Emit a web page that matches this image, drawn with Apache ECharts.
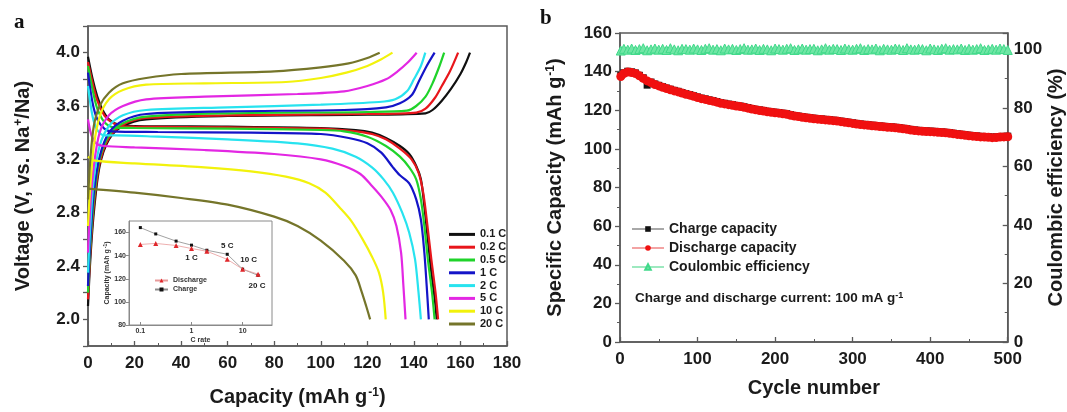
<!DOCTYPE html>
<html>
<head>
<meta charset="utf-8">
<script src="https://cdn.jsdelivr.net/npm/echarts@6.0.0/dist/echarts.min.js"></script>
<style>
  html, body { margin: 0; padding: 0; background: #fff; }
  #chart { width: 1067px; height: 412px; }
</style>
</head>
<body>
<div id="chart"></div>
<script>
// ---------- Panel a: galvanostatic charge/discharge profiles ----------
const rates = ['0.1 C', '0.2 C', '0.5 C', '1 C', '2 C', '5 C', '10 C', '20 C'];

// [capacity (mAh/g), voltage (V)]
const charge01 = [[0,2.1],[1,2.45],[2.5,2.8],[5,3.15],[9,3.35],[15,3.45],[25,3.5],[60,3.525],[120,3.535],[145,3.545],[148,3.57],[152,3.64],[156,3.73],[160,3.84],[162.5,3.93],[164.1,4.0]];
const charge02 = [[0,2.15],[1,2.5],[2.5,2.85],[5,3.17],[9,3.36],[15,3.46],[25,3.51],[60,3.53],[120,3.54],[141,3.55],[145,3.58],[149,3.66],[152,3.75],[155.5,3.86],[159,4.0]];
const charge05 = [[0,2.2],[1,2.55],[2.5,2.9],[5,3.2],[9,3.38],[15,3.47],[25,3.52],[60,3.545],[120,3.555],[137,3.565],[141,3.6],[145,3.67],[148,3.77],[151,3.9],[153,4.0]];
const charge1  = [[0,2.25],[1,2.6],[2.5,2.95],[5,3.22],[9,3.4],[15,3.49],[25,3.54],[60,3.56],[110,3.57],[128,3.59],[134,3.62],[139,3.68],[142,3.78],[145.5,3.9],[148.9,4.0]];
const charge2  = [[0,2.35],[1,2.7],[2.5,3.05],[5,3.3],[9,3.45],[15,3.53],[25,3.57],[60,3.59],[100,3.61],[125,3.63],[132,3.65],[137,3.71],[140,3.8],[143,3.9],[144.9,4.0]];
const charge5  = [[0,2.5],[1,2.85],[2.5,3.15],[5,3.4],[9,3.53],[15,3.6],[25,3.65],[50,3.67],[90,3.69],[110,3.71],[120,3.75],[128,3.8],[133,3.86],[137,3.92],[141.2,4.0]];
const charge10 = [[0,2.7],[1,3.0],[2.5,3.3],[5,3.52],[9,3.65],[15,3.72],[25,3.76],[50,3.77],[85,3.78],[100,3.81],[111,3.85],[120,3.9],[126,3.95],[130.8,4.0]];
const charge20 = [[0,2.9],[1,3.2],[2.5,3.45],[5,3.6],[9,3.7],[15,3.77],[25,3.81],[40,3.84],[80,3.86],[100,3.89],[112,3.92],[120,3.96],[125.3,4.0]];

const discharge01 = [[0,3.97],[2,3.8],[4,3.67],[6,3.58],[9,3.5],[13,3.46],[20,3.45],[60,3.445],[100,3.435],[115,3.42],[122,3.4],[128,3.36],[134,3.3],[138,3.24],[141,3.15],[143,3.05],[144.5,2.85],[146,2.6],[147.5,2.35],[149,2.15],[149.8,2.0]];
const discharge02 = [[0,3.93],[2,3.77],[4,3.64],[7,3.53],[10,3.48],[14,3.45],[20,3.445],[60,3.44],[100,3.43],[115,3.41],[122,3.39],[128,3.35],[134,3.28],[139,3.2],[142,3.1],[144,2.95],[145.5,2.75],[147.5,2.45],[149.3,2.2],[150.4,2.0]];
const discharge05 = [[0,3.9],[2,3.72],[4,3.58],[7,3.48],[11,3.44],[20,3.435],[60,3.43],[100,3.42],[110,3.41],[120,3.37],[128,3.3],[134,3.22],[138,3.14],[141,3.05],[143,2.9],[144.5,2.7],[146,2.45],[147.8,2.2],[148.9,2.0]];
const discharge1  = [[0,3.85],[2,3.62],[4,3.5],[7,3.43],[10,3.41],[30,3.405],[70,3.4],[100,3.39],[112,3.36],[120,3.32],[126,3.25],[131,3.14],[134,3.08],[138,3.02],[141,2.9],[143,2.75],[144.5,2.5],[145.5,2.25],[146.4,2.0]];
const discharge2  = [[0,3.75],[2,3.52],[4,3.42],[7,3.38],[12,3.38],[30,3.37],[60,3.35],[90,3.32],[105,3.28],[115,3.22],[122,3.14],[127,3.05],[131,2.95],[135,2.8],[138,2.65],[140.5,2.45],[142,2.2],[143,2.0]];
const discharge5  = [[0,3.5],[1.5,3.38],[3.5,3.32],[7,3.3],[20,3.29],[50,3.27],[80,3.24],[100,3.2],[110,3.15],[117,3.09],[122,3.0],[126,2.92],[130,2.82],[132.5,2.7],[134.5,2.5],[135.5,2.25],[136.4,2.0]];
const discharge10 = [[0,3.22],[3,3.19],[20,3.17],[50,3.14],[70,3.11],[85,3.07],[95,3.02],[102,2.95],[108,2.84],[113,2.74],[118,2.6],[122,2.47],[125,2.35],[126.8,2.2],[127.9,2.0]];
const discharge20 = [[0,2.98],[20,2.95],[40,2.91],[60,2.86],[80,2.77],[90,2.7],[100,2.59],[110,2.44],[115,2.33],[117.5,2.21],[119.5,2.1],[121.2,2.0]];

const chargeCurves = [charge01, charge02, charge05, charge1, charge2, charge5, charge10, charge20];
const dischargeCurves = [discharge01, discharge02, discharge05, discharge1, discharge2, discharge5, discharge10, discharge20];

// Inset: rate capability
const cRate = [0.1, 0.2, 0.5, 1, 2, 5, 10, 20];
const insetCharge = [164.3, 158.8, 152.6, 149.1, 144.7, 141.2, 128.3, 123.0];
const insetDischarge = [149.7, 150.6, 148.8, 146.2, 143.8, 136.8, 128.3, 124.0];
const insetLabelled = [1, 5, 10, 20];

// ---------- Panel b: cycling at 100 mA/g ----------
const cycles = [1,5,10,15,20,25,30,35,40,45,50,55,60,65,70,75,80,85,90,95,100,105,110,115,120,125,130,135,140,145,150,155,160,165,170,175,180,185,190,195,200,205,210,215,220,225,230,235,240,245,250,255,260,265,270,275,280,285,290,295,300,305,310,315,320,325,330,335,340,345,350,355,360,365,370,375,380,385,390,395,400,405,410,415,420,425,430,435,440,445,450,455,460,465,470,475,480,485,490,495,500];
const dischargeCap = [137.5,139.0,139.8,139.5,139.0,137.8,136.5,135.2,134.3,133.3,132.6,131.9,131.2,130.6,130.0,129.5,128.9,128.3,127.8,127.2,126.6,126.0,125.6,125.1,124.7,124.2,123.6,123.3,122.9,122.6,122.2,121.9,121.5,121.1,120.6,120.2,119.9,119.6,119.2,118.9,118.7,118.5,118.2,117.9,117.4,117.0,116.7,116.4,116.1,115.8,115.6,115.4,115.2,115.0,114.8,114.6,114.4,114.1,113.8,113.5,113.2,112.9,112.6,112.4,112.2,112.0,111.8,111.6,111.4,111.2,111.1,110.9,110.7,110.4,110.1,109.8,109.5,109.3,109.1,109.0,108.9,108.8,108.6,108.5,108.3,108.1,107.8,107.5,107.3,107.0,106.8,106.6,106.4,106.2,106.1,106.0,105.8,105.9,106.1,106.2,106.3];
const chargeCap = [138.0,139.4,140.2,139.9,139.3,138.1,136.8,133.0,134.6,133.6,132.9,132.2,131.5,130.9,130.3,129.8,129.2,128.6,128.1,127.5,126.9,126.3,125.9,125.4,125.0,124.5,123.9,123.6,123.2,122.9,122.5,122.2,121.8,121.4,120.9,120.5,120.2,119.9,119.5,119.2,119.0,118.8,118.5,118.2,117.7,117.3,117.0,116.7,116.4,116.1,115.9,115.7,115.5,115.3,115.1,114.9,114.7,114.4,114.1,113.8,113.5,113.2,112.9,112.7,112.5,112.3,112.1,111.9,111.7,111.5,111.4,111.2,111.0,110.7,110.4,110.1,109.8,109.6,109.4,109.3,109.2,109.1,108.9,108.8,108.6,108.4,108.1,107.8,107.6,107.3,107.1,106.9,106.7,106.5,106.4,106.3,106.1,106.2,106.4,106.5,106.6];
const coulombicEff = [99.6,100.2,99.9,100.3,99.8,100.1,100.4,99.7,100.0,100.3,99.9,100.2,99.8,100.4,100.0,99.7,100.2,100.1,99.9,100.3,100.0,99.8,100.2,100.4,99.9,100.1,99.7,100.3,100.0,100.2,99.8,100.1,100.4,99.9,100.0,100.3,99.8,100.2,100.0,99.7,100.3,100.1,99.9,100.2,100.4,99.8,100.0,100.3,99.9,100.1,100.2,99.7,100.0,100.4,99.9,100.2,100.1,99.8,100.3,100.0,99.9,100.2,100.4,99.8,100.1,100.0,100.3,99.7,100.2,100.0,99.9,100.3,100.1,99.8,100.4,100.0,99.9,100.2,100.1,99.7,100.3,100.0,99.8,100.2,100.4,99.9,100.1,100.0,100.3,99.8,100.2,99.9,100.1,100.4,99.8,100.0,100.2,99.9,100.3,100.1,99.8];

// ---------- Styling ----------
const FONT = 'Liberation Sans';
const TXT = '#1b1b1b';
const AX = '#5a5a5a';
const rateColors = ['#101010', '#e8161b', '#1fd32a', '#1414c8', '#27e3ef', '#e327e3', '#f2f20c', '#75752a'];

const supRich = (size) => ({
  sup: { fontSize: size, fontWeight: 'bold', fontFamily: FONT, color: TXT, verticalAlign: 'top', padding: [0, 0, 0, 1] }
});

function axisCommon(extra) {
  return Object.assign({
    axisLine: { show: true, onZero: false, lineStyle: { color: AX, width: 1.5 } },
    axisTick: { show: true, length: 5, lineStyle: { color: AX, width: 1.3 } },
    splitLine: { show: false },
    axisLabel: { color: TXT, fontFamily: FONT, fontWeight: 'bold', fontSize: 17 },
    nameTextStyle: { color: TXT, fontFamily: FONT, fontWeight: 'bold', fontSize: 20 }
  }, extra);
}

const chart = echarts.init(document.getElementById('chart'), null, { renderer: 'canvas' });

const series = [];
rates.forEach((r, i) => {
  series.push({
    name: r, type: 'line', xAxisIndex: 0, yAxisIndex: 0, data: chargeCurves[i],
    symbol: 'none', smooth: 0.3, lineStyle: { color: rateColors[i], width: 2.2 }, itemStyle: { color: rateColors[i] },
    z: 3, silent: true
  });
  series.push({
    name: r, type: 'line', xAxisIndex: 0, yAxisIndex: 0, data: dischargeCurves[i],
    symbol: 'none', smooth: 0.3, lineStyle: { color: rateColors[i], width: 2.2 }, itemStyle: { color: rateColors[i] },
    z: 3, silent: true
  });
});

// inset series
const insetLabelPos = { 1: ['bottom', [0, 2]], 5: ['top', [0, 2]], 10: ['top', [6, 1]], 20: ['bottom', [-1, 0]] };
series.push({
  name: 'Discharge', type: 'line', xAxisIndex: 1, yAxisIndex: 1,
  data: cRate.map((c, i) => [c, insetDischarge[i]]),
  symbol: 'triangle', symbolSize: 5, lineStyle: { color: '#e89a9a', width: 0.8 }, itemStyle: { color: '#e0262a' }, z: 6
});
series.push({
  name: 'Charge', type: 'line', xAxisIndex: 1, yAxisIndex: 1,
  data: cRate.map((c, i) => {
    const item = { value: [c, insetCharge[i]] };
    if (insetLabelled.indexOf(c) >= 0) {
      const pos = insetLabelPos[c];
      item.label = { show: true, formatter: c + ' C', position: pos[0], offset: pos[1],
        color: TXT, fontFamily: FONT, fontWeight: 'bold', fontSize: 8 };
    }
    return item;
  }),
  symbol: 'rect', symbolSize: 3, lineStyle: { color: '#8a8a8a', width: 0.8 }, itemStyle: { color: '#111' }, z: 5
});

// cycling series
series.push({
  name: 'Charge capacity', type: 'line', xAxisIndex: 2, yAxisIndex: 2,
  data: cycles.map((c, i) => [c, chargeCap[i]]),
  symbol: 'rect', symbolSize: 7, lineStyle: { color: '#a8a8a8', width: 1 }, itemStyle: { color: '#111' }, z: 3
});
series.push({
  name: 'Discharge capacity', type: 'line', xAxisIndex: 2, yAxisIndex: 2,
  data: cycles.map((c, i) => [c, dischargeCap[i]]),
  symbol: 'circle', symbolSize: 9, lineStyle: { color: '#f3a3a3', width: 1 }, itemStyle: { color: '#f01010' }, z: 4
});
series.push({
  name: 'Coulombic efficiency', type: 'line', xAxisIndex: 2, yAxisIndex: 3,
  data: cycles.map((c, i) => [c, coulombicEff[i]]),
  symbol: 'triangle', symbolSize: 9, lineStyle: { color: '#9de9bf', width: 1 },
  itemStyle: { color: '#6fe6a4', borderColor: '#40d98a', borderWidth: 1 }, z: 4
});

const option = {
  animation: false,
  backgroundColor: '#fff',
  textStyle: { fontFamily: FONT },
  grid: [
    { left: 88, top: 26, width: 419, height: 325, show: true, borderColor: AX, borderWidth: 1.5, backgroundColor: 'transparent' },
    { left: 129, top: 221, width: 143, height: 104, show: true, borderColor: '#8a8a8a', borderWidth: 1, backgroundColor: '#fff', z: 4 },
    { left: 620, top: 33, width: 398, height: 309, show: true, borderColor: AX, borderWidth: 1.5, backgroundColor: 'transparent' }
  ],
  xAxis: [
    axisCommon({
      gridIndex: 0, type: 'value', min: 0, max: 180, interval: 20,
      axisTick: { show: true, inside: true, length: 5, lineStyle: { color: AX, width: 1.3 } },
      minorTick: { show: true, splitNumber: 2, length: 3, lineStyle: { color: AX, width: 1 } },
      axisLabel: { color: TXT, fontFamily: FONT, fontWeight: 'bold', fontSize: 17, margin: 9 },
      name: 'Capacity (mAh g{sup|-1})', nameLocation: 'middle', nameGap: 41,
      nameTextStyle: { color: TXT, fontFamily: FONT, fontWeight: 'bold', fontSize: 20, rich: supRich(12) }
    }),
    {
      gridIndex: 1, type: 'log', logBase: 10, min: 0.06, max: 37.5,
      axisLine: { show: true, onZero: false, lineStyle: { color: '#8a8a8a', width: 1 } },
      axisTick: { show: true, inside: true, length: 3, lineStyle: { color: '#8a8a8a' } },
      splitLine: { show: false },
      axisLabel: { color: '#333', fontFamily: FONT, fontWeight: 'bold', fontSize: 7, margin: 3, showMinLabel: false, showMaxLabel: false,
        formatter: (v) => String(+v.toPrecision(2)) },
      name: 'C rate', nameLocation: 'middle', nameGap: 12,
      nameTextStyle: { color: '#333', fontFamily: FONT, fontWeight: 'bold', fontSize: 7 },
      z: 5
    },
    axisCommon({
      gridIndex: 2, type: 'value', min: 0, max: 500, interval: 100,
      axisTick: { show: true, inside: true, length: 5, lineStyle: { color: AX, width: 1.3 } },
      minorTick: { show: true, splitNumber: 2, length: 3, lineStyle: { color: AX, width: 1 } },
      axisLabel: { color: TXT, fontFamily: FONT, fontWeight: 'bold', fontSize: 17, margin: 9 },
      name: 'Cycle number', nameLocation: 'middle', nameGap: 36
    })
  ],
  yAxis: [
    axisCommon({
      gridIndex: 0, type: 'value', min: 1.8, max: 4.2, interval: 0.2,
      axisTick: { show: true, length: 5, lineStyle: { color: AX, width: 1.3 } },
      axisLabel: { color: TXT, fontFamily: FONT, fontWeight: 'bold', fontSize: 17, margin: 8,
        formatter: (v) => (Math.round(v * 10) % 4 === 0 ? v.toFixed(1) : '') },
      name: 'Voltage (V, vs. Na{sup|+}/Na)', nameLocation: 'middle', nameGap: 55, nameRotate: 90,
      nameTextStyle: { color: TXT, fontFamily: FONT, fontWeight: 'bold', fontSize: 20, rich: supRich(12) }
    }),
    {
      gridIndex: 1, type: 'value', min: 80, max: 170, interval: 20,
      axisLine: { show: true, onZero: false, lineStyle: { color: '#8a8a8a', width: 1 } },
      axisTick: { show: true, length: 3, lineStyle: { color: '#8a8a8a' } },
      splitLine: { show: false },
      axisLabel: { color: '#333', fontFamily: FONT, fontWeight: 'bold', fontSize: 7, margin: 3, showMaxLabel: false },
      name: 'Capacity (mAh g{sup|-1})', nameLocation: 'middle', nameGap: 15, nameRotate: 90,
      nameTextStyle: { color: '#333', fontFamily: FONT, fontWeight: 'bold', fontSize: 7, rich: supRich(5) },
      z: 5
    },
    axisCommon({
      gridIndex: 2, type: 'value', min: 0, max: 160, interval: 20,
      minorTick: { show: true, splitNumber: 2, length: 3, lineStyle: { color: AX, width: 1 } },
      name: 'Specific Capacity (mAh g{sup|-1})', nameLocation: 'middle', nameGap: 55, nameRotate: 90,
      nameTextStyle: { color: TXT, fontFamily: FONT, fontWeight: 'bold', fontSize: 20, rich: supRich(12) }
    }),
    axisCommon({
      gridIndex: 2, type: 'value', position: 'right', min: 0, max: 105.6, interval: 20,
      axisTick: { show: true, inside: true, length: 5, lineStyle: { color: AX, width: 1.3 } },
      minorTick: { show: true, splitNumber: 2, length: 3, lineStyle: { color: AX, width: 1 } },
      axisLabel: { color: TXT, fontFamily: FONT, fontWeight: 'bold', fontSize: 17, margin: 6, showMaxLabel: false },
      name: 'Coulombic efficiency (%)', nameLocation: 'middle', nameGap: 27, nameRotate: 90
    })
  ],
  legend: [
    {
      data: rates, orient: 'vertical', left: 449, top: 228, padding: 0,
      icon: 'rect', itemWidth: 26, itemHeight: 3, itemGap: 0,
      textStyle: { color: TXT, fontFamily: FONT, fontWeight: 'bold', fontSize: 11, lineHeight: 12.8 },
      selectedMode: false
    },
    {
      data: ['Discharge', 'Charge'], orient: 'vertical', left: 154, top: 277, padding: 0,
      itemWidth: 13, itemHeight: 5, itemGap: 2,
      textStyle: { color: '#333', fontFamily: FONT, fontWeight: 'bold', fontSize: 7, lineHeight: 7 },
      selectedMode: false, z: 6
    },
    {
      data: ['Charge capacity', 'Discharge capacity', 'Coulombic efficiency'],
      orient: 'vertical', left: 631, top: 221, padding: 0,
      itemWidth: 32, itemHeight: 7, itemGap: 3,
      textStyle: { color: TXT, fontFamily: FONT, fontWeight: 'bold', fontSize: 14, lineHeight: 16 },
      selectedMode: false
    }
  ],
  graphic: [
    { type: 'text', left: 14, top: 12, style: { text: 'a', font: 'bold 21px "Liberation Serif"', fill: '#111' } },
    { type: 'text', left: 540, top: 8, style: { text: 'b', font: 'bold 21px "Liberation Serif"', fill: '#111' } },
    { type: 'text', left: 635, top: 291, style: {
        text: 'Charge and discharge current: 100 mA g{sup|-1}',
        font: 'bold 13.5px "Liberation Sans"', fill: TXT,
        rich: { sup: { fontSize: 9, fontWeight: 'bold', fontFamily: FONT, fill: TXT, verticalAlign: 'top' } }
      } }
  ],
  series: series
};

chart.setOption(option);
</script>
</body>
</html>
